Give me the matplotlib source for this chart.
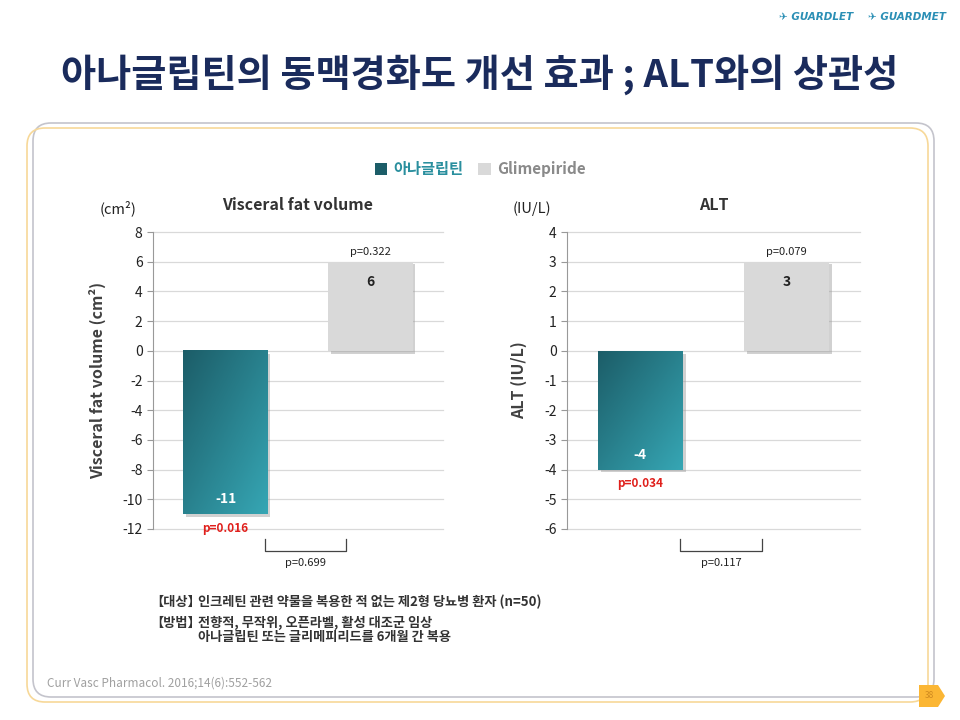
import numpy as np
import matplotlib
matplotlib.use('Agg')
import matplotlib.pyplot as plt
import matplotlib.patheffects as pe
from matplotlib.patches import FancyBboxPatch, Rectangle, Polygon

plt.rcParams['font.family'] = ['Noto Sans CJK KR', 'DejaVu Sans']
plt.rcParams['axes.unicode_minus'] = False

# data
groups = ['아나글립틴', 'Glimepiride']
vfv_values = [-11, 6]
vfv_pvals = ['p=0.016', 'p=0.322']
vfv_between = 'p=0.699'
alt_values = [-4, 3]
alt_pvals = ['p=0.034', 'p=0.079']
alt_between = 'p=0.117'
vfv_ticks = [8, 6, 4, 2, 0, -2, -4, -6, -8, -10, -12]
alt_ticks = [4, 3, 2, 1, 0, -1, -2, -3, -4, -5, -6]

TEAL_DARK = '#1c5d68'
TEAL_LIGHT = '#36a6b4'
GRAY_BAR = '#d9d9d9'
RED = '#e0201c'
TXT = '#404040'

fig = plt.figure(figsize=(9.6, 7.2), dpi=100)

# background layer in pixel coords
bg = fig.add_axes([0, 0, 1, 1], zorder=-5)
bg.set_xlim(0, 960)
bg.set_ylim(720, 0)
bg.axis('off')
bg.add_patch(FancyBboxPatch((33, 123), 901, 574, boxstyle='round,pad=0,rounding_size=18',
                            fc='none', ec='#c4c4cc', lw=1.2))
bg.add_patch(FancyBboxPatch((27, 128), 901, 574, boxstyle='round,pad=0,rounding_size=18',
                            fc='none', ec='#f7d898', lw=1.2))
bg.add_patch(Polygon([[919, 685], [938, 685], [945, 696], [938, 707], [919, 707]],
                     closed=True, fc='#fbb634', ec='none'))
bg.text(929, 696, '38', fontsize=6, color='#d08a20', ha='center', va='center')

fig.text(0.5, 1 - 75 / 720, '아나글립틴의 동맥경화도 개선 효과 ; ALT와의 상관성',
         fontsize=27.5, fontweight='heavy', color='#1a2b5c', ha='center', va='center')
fig.text(853 / 960, 1 - 17 / 720, '✈ GUARDLET', fontsize=7.5, fontweight='bold', style='italic',
         color='#2b8fb5', ha='right', va='center', family=['DejaVu Sans'])
fig.text(946 / 960, 1 - 17 / 720, '✈ GUARDMET', fontsize=7.5, fontweight='bold', style='italic',
         color='#2b8fb5', ha='right', va='center', family=['DejaVu Sans'])

grad = np.linspace(0, 1, 64)
gx, gy = np.meshgrid(grad, grad)
teal_cmap = matplotlib.colors.LinearSegmentedColormap.from_list('t', [TEAL_DARK, TEAL_LIGHT])
shadow = [pe.SimplePatchShadow(offset=(2, -2), shadow_rgbFace='#999999', alpha=0.45), pe.Normal()]


def draw_panel(ax, values, pvals, between, ticks, title, unit, ylabel):
    x = np.arange(len(values))
    bars = ax.bar(x, values, width=0.58, color=[TEAL_LIGHT, GRAY_BAR], zorder=3,
                  path_effects=shadow)
    # gradient on the first bar
    b = bars[0]
    x0, w = b.get_x(), b.get_width()
    y0, h = b.get_y(), b.get_height()
    ax.imshow((gx + gy) / 2, cmap=teal_cmap, extent=(x0, x0 + w, y0 + h, y0),
              aspect='auto', zorder=4, origin='upper')

    ax.set_xlim(-0.5, 1.5)
    ax.set_ylim(min(ticks), max(ticks))
    ax.set_yticks(ticks)
    ax.set_xticks([])
    ax.grid(axis='y', color='#d9d9d9', lw=0.9, zorder=0)
    for line in ax.get_ygridlines():
        line.set_clip_on(False)
    for s in ['top', 'right', 'bottom']:
        ax.spines[s].set_visible(False)
    ax.spines['left'].set_color('#999999')
    ax.tick_params(axis='y', length=4, color='#999999', labelsize=10, labelcolor='#222222')
    ax.set_ylabel(ylabel, fontsize=11.5, fontweight='bold', color=TXT, labelpad=12)
    ax.set_title(title, fontsize=11.5, fontweight='bold', color='#333333', pad=16)
    ax.text(-0.12, 1.08, unit, transform=ax.transAxes, fontsize=10.5, color='#222222',
            ha='center', va='center')

    # value labels
    ax.annotate(str(values[0]), (x[0], values[0]), xytext=(0, 15), textcoords='offset pixels',
                ha='center', va='center', color='white', fontweight='bold', fontsize=10, zorder=6)
    ax.annotate(pvals[0], (x[0], values[0]), xytext=(0, -14), textcoords='offset pixels',
                ha='center', va='center', color=RED, fontweight='bold', fontsize=8.5, zorder=6,
                annotation_clip=False)
    ax.annotate(str(values[1]), (x[1], values[1]), xytext=(0, -20), textcoords='offset pixels',
                ha='center', va='center', color='#222222', fontweight='bold', fontsize=10, zorder=6)
    ax.annotate(pvals[1], (x[1], values[1]), xytext=(0, 10), textcoords='offset pixels',
                ha='center', va='center', color='#222222', fontsize=8, zorder=6)

    # between-group bracket below the axes
    tr = ax.get_xaxis_transform()
    ax.plot([0.27, 0.27, 0.83, 0.83], [-0.034, -0.074, -0.074, -0.034], transform=tr,
            color='#444444', lw=0.9, clip_on=False)
    ax.text(0.55, -0.116, between, transform=tr, ha='center', va='center',
            fontsize=8, color='#222222')
    return bars


ax1 = fig.add_axes([153 / 960, 1 - 529 / 720, 290 / 960, 297 / 720])
draw_panel(ax1, vfv_values, vfv_pvals, vfv_between, vfv_ticks,
           'Visceral fat volume', '(cm²)', 'Visceral fat volume (cm²)')
ax2 = fig.add_axes([567 / 960, 1 - 529 / 720, 293 / 960, 297 / 720])
draw_panel(ax2, alt_values, alt_pvals, alt_between, alt_ticks, 'ALT', '(IU/L)', 'ALT (IU/L)')

leg = fig.legend(handles=[Rectangle((0, 0), 1, 1, fc=TEAL_DARK), Rectangle((0, 0), 1, 1, fc=GRAY_BAR)],
                 labels=groups, loc='center', bbox_to_anchor=(0.5, 1 - 169 / 720), ncol=2,
                 frameon=False, handlelength=0.8, handleheight=0.8, handletextpad=0.4,
                 columnspacing=1.0, prop={'weight': 'bold', 'size': 11})
leg.get_texts()[0].set_color('#2a8f9e')
leg.get_texts()[1].set_color('#8a8a8a')

notes_y = [602, 623, 637]
fig.text(150 / 960, 1 - notes_y[0] / 720, '【대상】', fontsize=9.5, fontweight='bold', color='#333333', va='center')
fig.text(198 / 960, 1 - notes_y[0] / 720, '인크레틴 관련 약물을 복용한 적 없는 제2형 당뇨병 환자 (n=50)',
         fontsize=9.5, fontweight='bold', color='#333333', va='center')
fig.text(150 / 960, 1 - notes_y[1] / 720, '【방법】', fontsize=9.5, fontweight='bold', color='#333333', va='center')
fig.text(198 / 960, 1 - notes_y[1] / 720, '전향적, 무작위, 오픈라벨, 활성 대조군 임상',
         fontsize=9.5, fontweight='bold', color='#333333', va='center')
fig.text(198 / 960, 1 - notes_y[2] / 720, '아나글립틴 또는 글리메피리드를 6개월 간 복용',
         fontsize=9.5, fontweight='bold', color='#333333', va='center')
fig.text(47 / 960, 1 - 683 / 720, 'Curr Vasc Pharmacol. 2016;14(6):552-562', fontsize=8.5,
         color='#a0a0a0', va='center')

fig.savefig('out.png', dpi=100)
